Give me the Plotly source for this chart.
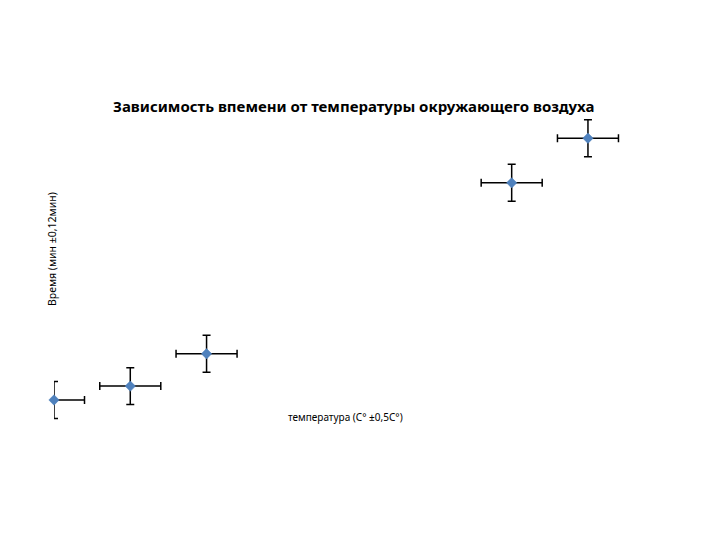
import plotly.graph_objects as go

temperature = [18.0, 19.25, 20.5, 25.5, 26.75]
time_min = [3.00, 3.09, 3.30, 4.41, 4.70]
temp_err_plus = [0.5, 0.5, 0.5, 0.5, 0.5]
temp_err_minus = [0.0, 0.5, 0.5, 0.5, 0.5]
time_err = [0.12, 0.12, 0.12, 0.12, 0.12]

title_text = "Зависимость впемени от температуры окружающего воздуха"
x_title = "температура (С° ±0,5С°)"
y_title = "Время (мин ±0,12мин)"

OFF = 8  # page body margin offset
W, H = 720, 540
# plot area in page pixels
PL, PR, PT, PB = 54, 638, 110, 420
ML = PL - OFF
MT = PT - OFF
MR = W - (PR - OFF)
MB = H - (PB - OFF)
PW = PR - PL
PH = PB - PT


def px_to_paper(px, py):
    return (px - PL) / PW, (PB - py) / PH


fig = go.Figure()
fig.add_trace(go.Scatter(
    x=temperature, y=time_min, mode="markers",
    marker=dict(symbol="diamond", size=8, color="#4F81BD",
                line=dict(color="#4A7EBB", width=0.5)),
    error_x=dict(type="data", symmetric=False, array=temp_err_plus,
                 arrayminus=temp_err_minus, color="black", thickness=1.5, width=4),
    error_y=dict(type="data", array=time_err, color="black", thickness=1.5, width=4),
    cliponaxis=False, showlegend=False,
))

anns = []
x, y = px_to_paper(353, 106)
anns.append(dict(text="<b>" + title_text + "</b>", x=x, y=y, xref="paper", yref="paper",
                 showarrow=False, xanchor="center", yanchor="middle",
                 font=dict(family="Noto Sans", size=15, color="black")))
x, y = px_to_paper(345, 417)
anns.append(dict(text=x_title, x=x, y=y, xref="paper", yref="paper", showarrow=False,
                 xanchor="center", yanchor="middle",
                 font=dict(family="Noto Sans", size=10, color="black")))
x, y = px_to_paper(52, 249)
anns.append(dict(text=y_title, x=x, y=y, xref="paper", yref="paper", showarrow=False,
                 xanchor="center", yanchor="middle",
                 textangle=-90, font=dict(family="Noto Sans", size=10.5, color="black")))

fig.update_layout(
    width=W, height=H,
    margin=dict(l=ML, r=MR, t=MT, b=MB, pad=0, autoexpand=False),
    paper_bgcolor="white", plot_bgcolor="white",
    xaxis=dict(range=[18.0, 27.57], visible=False),
    yaxis=dict(range=[2.870, 4.883], visible=False),
    annotations=anns,
)

fig.write_html("out.html")
